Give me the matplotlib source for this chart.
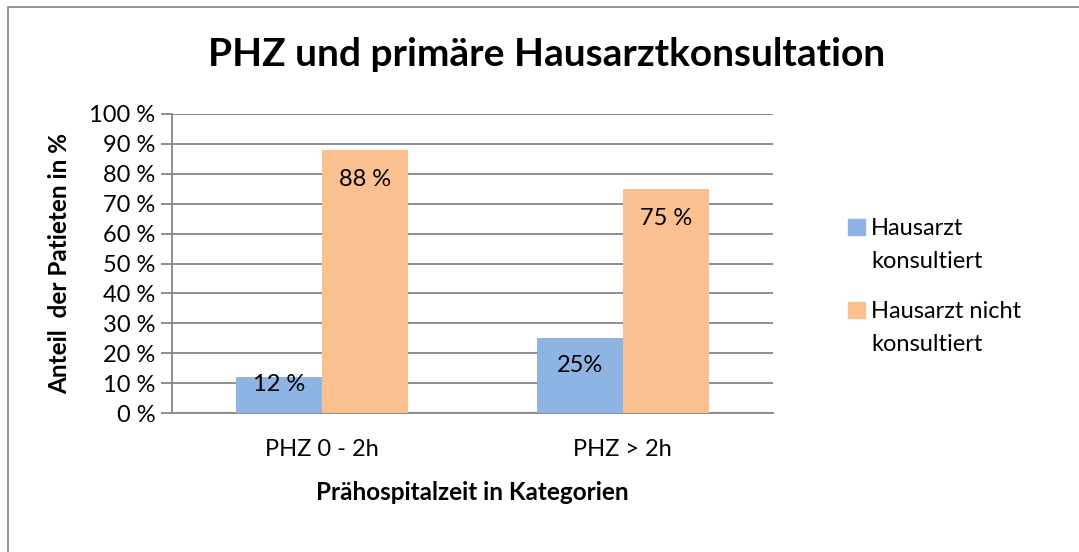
import numpy as np
import matplotlib.pyplot as plt
from matplotlib.patches import Rectangle

# data
categories = ['PHZ 0 - 2h', 'PHZ > 2h']
series_names = ['Hausarzt\nkonsultiert', 'Hausarzt nicht\nkonsultiert']
konsultiert = [12, 25]
nicht_konsultiert = [88, 75]
label_konsultiert = ['12 %', '25%']
label_nicht = ['88 %', '75 %']
colors = ['#8EB4E3', '#FAC090']

plt.rcParams['font.family'] = ['Lato', 'DejaVu Sans']

fig = plt.figure(figsize=(10.79, 5.52), dpi=100)
# outer chart border (left + top visible)
fig.patches.append(Rectangle((8 / 1079, -0.1), 1.2, 1 - 7 / 552 + 0.1,
                             transform=fig.transFigure, fill=False,
                             edgecolor='#868686', linewidth=1.2))

ax = fig.add_axes([172 / 1079, 1 - 413 / 552, 601 / 1079, 299 / 552])

x = np.arange(len(categories))
w = 86 / 300
b1 = ax.bar(x - w / 2, konsultiert, w, color=colors[0], zorder=3)
b2 = ax.bar(x + w / 2, nicht_konsultiert, w, color=colors[1], zorder=3)

# data labels inside end
for bars, labels in [(b1, label_konsultiert), (b2, label_nicht)]:
    for rect, lab in zip(bars, labels):
        v = rect.get_height()
        y = v - min(10, v / 2 - 3.5)
        ax.text(rect.get_x() + rect.get_width() / 2, y, lab,
                ha='center', va='center', fontsize=17, color='black', zorder=4)

ax.set_xlim(-0.5, 1.5)
ax.set_ylim(0, 100)
ax.set_yticks(np.arange(0, 101, 10))
ax.set_yticklabels([f'{t} %' for t in range(0, 101, 10)], fontsize=17)
ax.set_xticks(x)
ax.set_xticklabels(categories, fontsize=17)
ax.tick_params(axis='x', length=0, pad=19)
ax.tick_params(axis='y', length=8, width=1.3, color='#868686', pad=4)
ax.grid(axis='y', color='#868686', linewidth=1.3, zorder=0)
for s in ['top', 'right']:
    ax.spines[s].set_visible(False)
for s in ['left', 'bottom']:
    ax.spines[s].set_color('#868686')
    ax.spines[s].set_linewidth(1.3)

ax.set_xlabel('Prähospitalzeit in Kategorien', fontsize=17.5, fontweight='bold', labelpad=15)
ax.set_ylabel('Anteil  der Patieten in %', fontsize=17.5, fontweight='bold', labelpad=13)

fig.text(547 / 1079, 1 - 55 / 552, 'PHZ und primäre Hausarztkonsultation',
         ha='center', va='center', fontsize=28, fontweight='bold')

# legend
for i, (name, c) in enumerate(zip(series_names, colors)):
    ytop = 227 + i * 83
    fig.patches.append(Rectangle((848 / 1079, 1 - (ytop + 8) / 552), 17 / 1079, 16 / 552,
                                 transform=fig.transFigure, color=c))
    fig.text(871 / 1079, 1 - (ytop - 9) / 552, name, ha='left', va='top',
             fontsize=17, linespacing=1.72)

fig.savefig('out.png', dpi=100)
